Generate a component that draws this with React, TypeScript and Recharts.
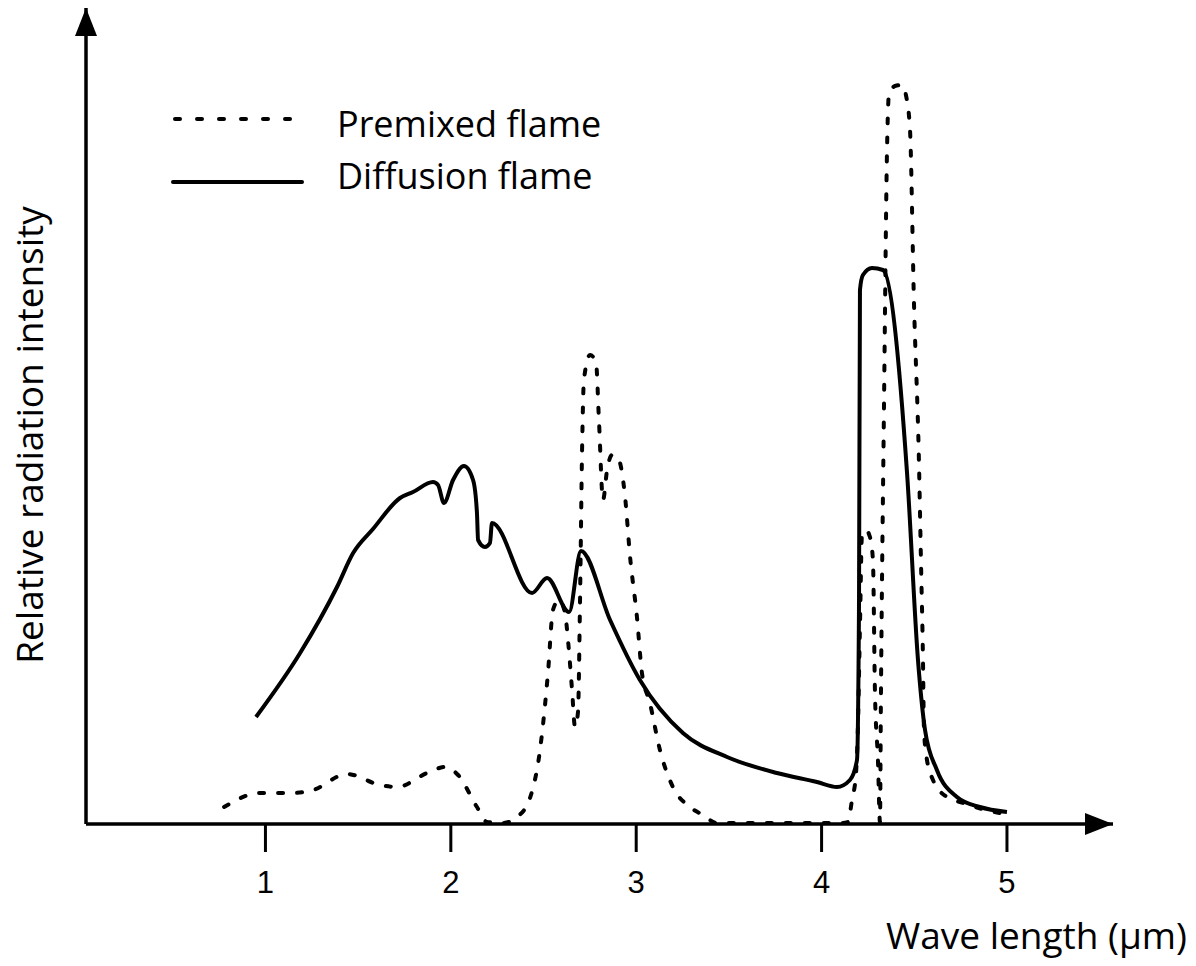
import React from 'react';
import { Label, Legend, Line, LineChart, ReferenceDot, XAxis, YAxis } from 'recharts';

// wavelength (µm) and relative intensity (arbitrary units, 0 = baseline)
const diffusionWave = [
  0.949, 1.187, 1.386, 1.473, 1.58, 1.726, 1.796, 1.904, 1.931, 1.963, 2.012, 2.071, 2.12, 2.141, 2.147,
  2.184, 2.211, 2.222, 2.438, 2.519, 2.638, 2.702, 2.859, 3.02, 3.252, 3.49, 3.759, 3.975, 4.083, 4.153,
  4.191, 4.202, 4.207, 4.223, 4.272, 4.331, 4.461, 4.52, 4.558, 4.622, 4.73, 4.854, 5.0,
];
const diffusionIntensity = [
  107, 171, 237, 271, 295, 326, 332, 342, 339, 321, 344, 358, 344, 311, 284,
  277, 281, 301, 231, 246, 212, 273, 204, 144, 91, 67, 51, 42, 37, 44,
  64, 224, 534, 549, 556, 554, 351, 164, 94, 54, 27, 17, 12,
];

const premixedWave = [
  0.777, 0.971, 1.149, 1.257, 1.44, 1.618, 1.71, 1.872, 1.969, 2.039, 2.141, 2.195, 2.282, 2.357, 2.427,
  2.481, 2.524, 2.551, 2.584, 2.616, 2.632, 2.654, 2.67, 2.686, 2.697, 2.708, 2.718, 2.751, 2.783, 2.799,
  2.821, 2.843, 2.869, 2.902, 2.94, 2.967, 3.004, 3.031, 3.074, 3.128, 3.198, 3.29, 3.36, 3.436, 4.115,
  4.142, 4.164, 4.185, 4.196, 4.207, 4.218, 4.239, 4.261, 4.277, 4.288, 4.304, 4.315, 4.32, 4.337, 4.353,
  4.363, 4.396, 4.434, 4.455, 4.477, 4.498, 4.525, 4.536, 4.547, 4.552, 4.563, 4.601, 4.676, 4.763, 4.865,
  4.962,
];
const premixedIntensity = [
  17, 31, 31, 34, 50, 39, 37, 51, 57, 49, 17, 2, 1, 7, 26,
  74, 151, 214, 224, 211, 184, 134, 97, 112, 224, 374, 444, 469, 462, 404,
  324, 354, 369, 366, 327, 267, 207, 151, 121, 74, 37, 17, 9, 1, 1,
  2, 24, 49, 97, 197, 289, 294, 287, 264, 131, 64, 2, 124, 424, 674,
  729, 738, 739, 729, 694, 524, 364, 264, 164, 97, 71, 44, 27, 21, 15,
  11,
];

const waveTicks = [1, 2, 3, 4, 5];
const xDomain = [0.032, 5.572];
const yDomain = [0, 816];

const diffusionData = diffusionWave.map((w, i) => ({ w, v: diffusionIntensity[i] }));
const premixedData = premixedWave.map((w, i) => ({ w, v: premixedIntensity[i] }));

const textFont = '"Open Sans", sans-serif';
const tickFont = '"Liberation Sans", Arial, sans-serif';

const ArrowRight = (props: any) => {
  const { cx, cy } = props;
  return <path d={`M${cx},${cy} L${cx - 28},${cy - 11} L${cx - 28},${cy + 11} Z`} fill="#000" />;
};

const ArrowUp = (props: any) => {
  const { cx, cy } = props;
  return <path d={`M${cx},${cy} L${cx - 11},${cy + 28} L${cx + 11},${cy + 28} Z`} fill="#000" />;
};

const WaveTick = (props: any) => {
  const { x, y, payload } = props;
  return (
    <text x={x} y={y} dy={22} textAnchor="middle" fontFamily={tickFont} fontSize={31} fill="#000">
      {payload.value}
    </text>
  );
};

const renderLegend = () => (
  <svg width={470} height={110} style={{ display: 'block' }}>
    <line x1={15} y1={29} x2={131} y2={29} stroke="#000" strokeWidth={4}
      strokeDasharray="5 17" strokeLinecap="round" />
    <text x={177} y={47} fontFamily={textFont} fontSize={36} fill="#000">Premixed flame</text>
    <line x1={13} y1={92} x2={142} y2={92} stroke="#000" strokeWidth={4} strokeLinecap="round" />
    <text x={177} y={99} fontFamily={textFont} fontSize={36} fill="#000">Diffusion flame</text>
  </svg>
);

export default function App() {
  return (
    <div style={{ position: 'absolute', left: 0, top: 0, background: '#fff' }}>
      <LineChart width={1196} height={966} margin={{ top: 8, right: 83, bottom: 82, left: 80 }}>
        <XAxis
          type="number"
          dataKey="w"
          domain={xDomain}
          ticks={waveTicks}
          allowDataOverflow
          height={60}
          tickSize={28}
          tickMargin={19}
          axisLine={{ stroke: '#000', strokeWidth: 3.5 }}
          tickLine={{ stroke: '#000', strokeWidth: 3 }}
          tick={WaveTick}
        >
          <Label
            content={() => (
              <text x={1187} y={949} textAnchor="end" fontFamily={textFont} fontSize={37} fill="#000">
                Wave length (μm)
              </text>
            )}
          />
        </XAxis>
        <YAxis
          type="number"
          domain={yDomain}
          allowDataOverflow
          width={6}
          tick={false}
          tickLine={false}
          axisLine={{ stroke: '#000', strokeWidth: 3.5 }}
        >
          <Label
            content={() => (
              <text x={43} y={435} transform="rotate(-90, 43, 435)" textAnchor="middle"
                fontFamily={textFont} fontSize={37} fill="#000">
                Relative radiation intensity
              </text>
            )}
          />
        </YAxis>
        <Legend
          layout="vertical"
          align="center"
          verticalAlign="middle"
          content={renderLegend}
          wrapperStyle={{ left: 160, top: 90, width: 470, height: 110 }}
        />
        <Line
          data={premixedData}
          dataKey="v"
          type="monotone"
          stroke="#000"
          strokeWidth={4}
          strokeDasharray="5 14"
          strokeLinecap="round"
          dot={false}
          activeDot={false}
          isAnimationActive={false}
        />
        <Line
          data={diffusionData}
          dataKey="v"
          type="monotone"
          stroke="#000"
          strokeWidth={4}
          strokeLinejoin="round"
          dot={false}
          activeDot={false}
          isAnimationActive={false}
        />
        <ReferenceDot x={xDomain[1]} y={0} r={0} ifOverflow="visible" shape={ArrowRight} />
        <ReferenceDot x={xDomain[0]} y={yDomain[1]} r={0} ifOverflow="visible" shape={ArrowUp} />
      </LineChart>
    </div>
  );
}
